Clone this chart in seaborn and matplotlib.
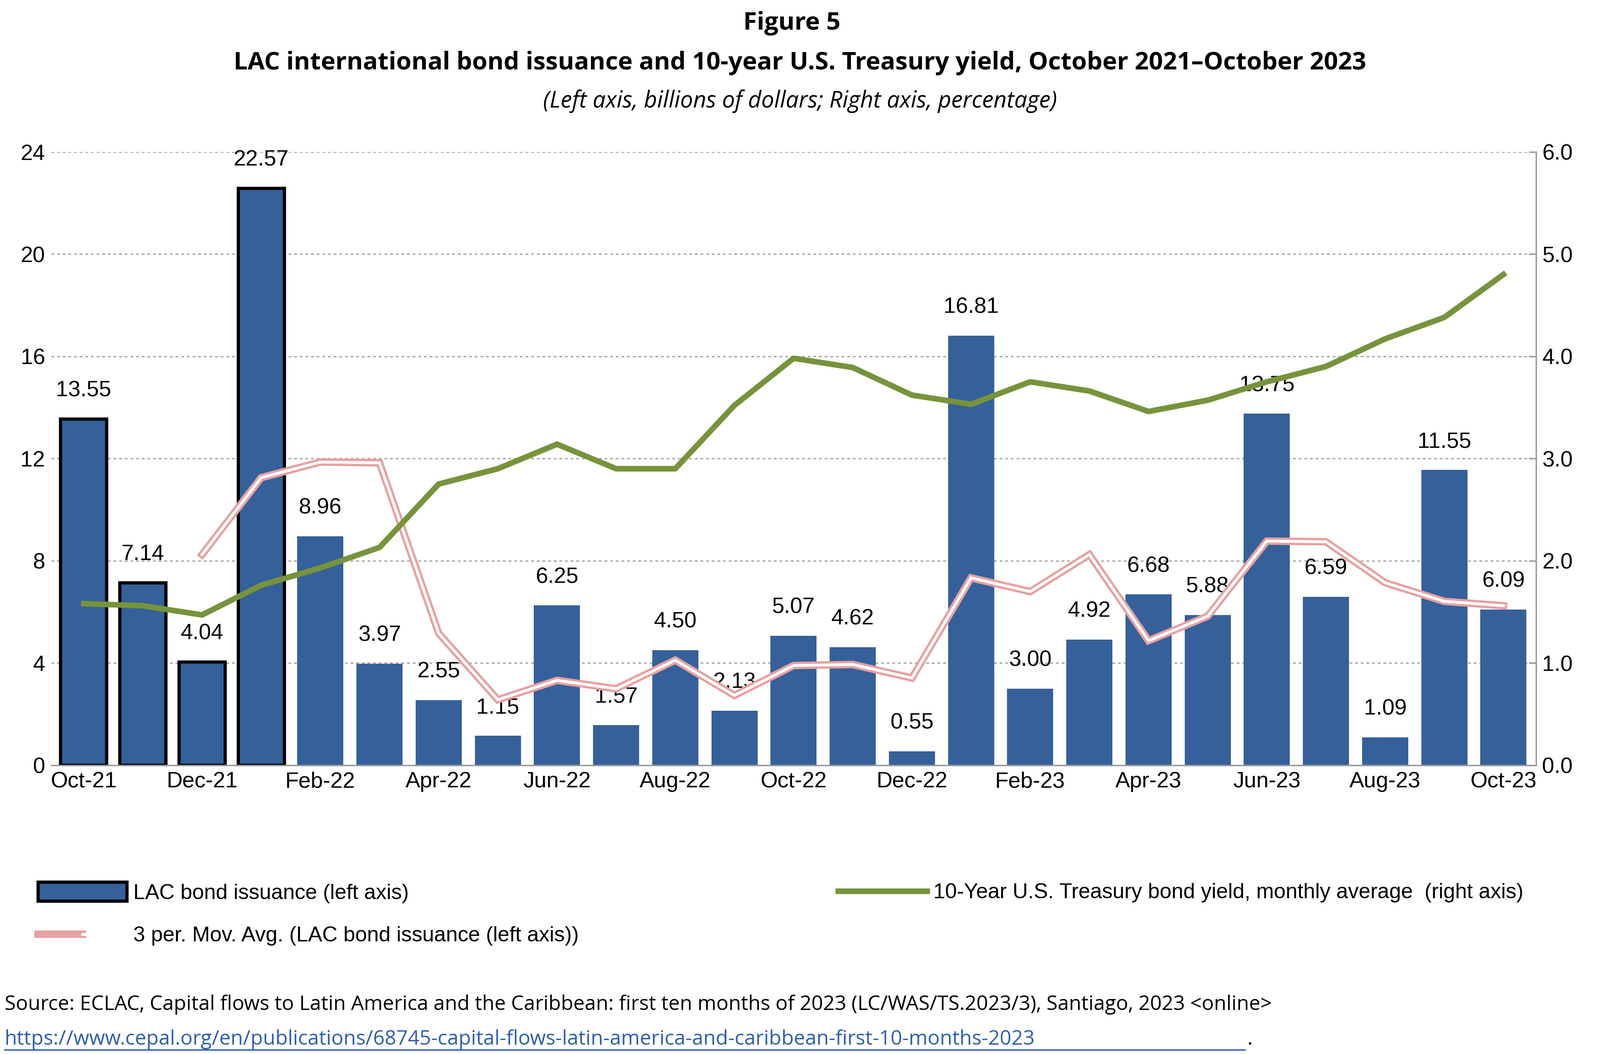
import numpy as np
import pandas as pd
import matplotlib
matplotlib.use("Agg")
import matplotlib.pyplot as plt
import seaborn as sns
from matplotlib.patches import Patch
from matplotlib.lines import Line2D

# ---- data ----
meses = ["Oct-21", "Nov-21", "Dec-21", "Jan-22", "Feb-22", "Mar-22", "Apr-22", "May-22",
         "Jun-22", "Jul-22", "Aug-22", "Sep-22", "Oct-22", "Nov-22", "Dec-22", "Jan-23",
         "Feb-23", "Mar-23", "Apr-23", "May-23", "Jun-23", "Jul-23", "Aug-23", "Sep-23", "Oct-23"]
emision = [13.55, 7.14, 4.04, 22.57, 8.96, 3.97, 2.55, 1.15, 6.25, 1.57, 4.50, 2.13, 5.07,
           4.62, 0.55, 16.81, 3.00, 4.92, 6.68, 5.88, 13.75, 6.59, 1.09, 11.55, 6.09]
rendimiento = [1.58, 1.56, 1.47, 1.76, 1.93, 2.13, 2.75, 2.90, 3.14, 2.90, 2.90, 3.52, 3.98,
               3.89, 3.62, 3.53, 3.75, 3.66, 3.46, 3.57, 3.75, 3.90, 4.17, 4.38, 4.80]
media_movil = [np.nan, np.nan, 8.24, 11.25, 11.86, 11.83, 5.16, 2.56, 3.32, 2.99, 4.11, 2.73,
               3.90, 3.94, 3.41, 7.33, 6.79, 8.24, 4.87, 5.83, 8.77, 8.74, 7.14, 6.41, 6.24]

df = pd.DataFrame({"mes": meses, "emision": emision,
                   "rend": rendimiento, "mm": media_movil})
df["x"] = np.arange(len(df))

azul = "#35609a"
verde = "#77933c"
rosa = "#e6a0a0"

plt.rcParams["font.family"] = "Liberation Sans"
fig = plt.figure(figsize=(12.6, 8.3), dpi=300)
ax = fig.add_axes([0.032, 0.274, 0.928, 0.582])

sns.barplot(data=df, x="x", y="emision", color=azul, width=0.78, saturation=1, ax=ax)
for i, p in enumerate(ax.patches):
    if i < 4:
        p.set_edgecolor("black")
        p.set_linewidth(1.8)
    ax.text(p.get_x() + p.get_width() / 2, p.get_height() + 0.7, f"{df.emision[i]:.2f}",
            ha="center", va="bottom", fontsize=12.5)

# moving average: double line (pink outline, white center)
ax.plot(df.x, df.mm, color=rosa, lw=4.2, zorder=3, solid_joinstyle="miter")
ax.plot(df.x, df.mm, color="white", lw=1.6, zorder=4, solid_joinstyle="miter")

ax.set_ylim(0, 24)
ax.set_yticks(range(0, 25, 4))
ax.set_xlim(-0.55, len(df) - 0.45)
ax.set_xticks(df.x[::2])
ax.set_xticklabels(df.mes[::2])
ax.set_xlabel("")
ax.set_ylabel("")
ax.tick_params(labelsize=12.5, length=0)
ax.yaxis.grid(True, ls=(0, (2, 2)), color="#aaaaaa", lw=0.8)
ax.set_axisbelow(True)
for s in ["top", "left", "right"]:
    ax.spines[s].set_visible(False)
ax.spines["bottom"].set_color("#999999")

ax2 = ax.twinx()
sns.lineplot(data=df, x="x", y="rend", color=verde, lw=3.2, ax=ax2, zorder=5)
ax2.set_ylim(0, 6)
ax2.set_yticks(np.arange(0, 6.1, 1))
ax2.set_yticklabels([f"{v:.1f}" for v in np.arange(0, 6.1, 1)])
ax2.set_ylabel("")
ax2.tick_params(labelsize=12.5, direction="in", length=4, color="#999999")
for s in ["top", "left", "bottom"]:
    ax2.spines[s].set_visible(False)
ax2.spines["right"].set_color("#999999")

# titles
fig.text(0.495, 0.978, "Figure 5", ha="center", va="center", fontsize=14,
         fontweight="bold", family="Open Sans")
fig.text(0.5, 0.940, "LAC international bond issuance and 10-year U.S. Treasury yield, October 2021\u2013October 2023",
         ha="center", va="center", fontsize=14, fontweight="bold", family="Open Sans")
fig.text(0.5, 0.904, "(Left axis, billions of dollars; Right axis, percentage)", ha="center",
         va="center", fontsize=13, style="italic", family="Open Sans")

# legends
fig.legend(handles=[Patch(facecolor=azul, edgecolor="black", lw=1.8,
                          label="LAC bond issuance (left axis)")],
           loc="center left", bbox_to_anchor=(0.012, 0.153), frameon=False, fontsize=12,
           handlelength=4.2, handleheight=1.0, handletextpad=0.3)
ma_handle = (Line2D([], [], color=rosa, lw=4.2), Line2D([], [], color="white", lw=1.6))
from matplotlib.legend_handler import HandlerTuple
fig.legend(handles=[ma_handle], labels=["3 per. Mov. Avg. (LAC bond issuance (left axis))"],
           handler_map={tuple: HandlerTuple(ndivide=None, pad=0)},
           loc="center left", bbox_to_anchor=(0.012, 0.112), frameon=False, fontsize=12,
           handlelength=4.2, handletextpad=0.3)
fig.legend(handles=[Line2D([], [], color=verde, lw=3.2,
                           label="10-Year U.S. Treasury bond yield, monthly average  (right axis)")],
           loc="center left", bbox_to_anchor=(0.512, 0.153), frameon=False, fontsize=12,
           handlelength=4.2, handletextpad=0.3)

# source
fig.text(0.003, 0.047, "Source: ECLAC, Capital flows to Latin America and the Caribbean: first ten months of 2023 (LC/WAS/TS.2023/3), Santiago, 2023 <online>",
         ha="left", va="center", fontsize=11.5, family="Open Sans")
fig.text(0.003, 0.014, "https://www.cepal.org/en/publications/68745-capital-flows-latin-america-and-caribbean-first-10-months-2023",
         ha="left", va="center", fontsize=11.5, family="Open Sans", color="#2f5faa")
fig.text(0.003 + 0.7765, 0.014, ".", ha="left", va="center", fontsize=11.5, family="Open Sans")
fig.lines.append(Line2D([0.003, 0.778], [0.004, 0.004], color="#2f5faa", lw=0.8,
                        transform=fig.transFigure))

fig.savefig("out.png", dpi=300)
